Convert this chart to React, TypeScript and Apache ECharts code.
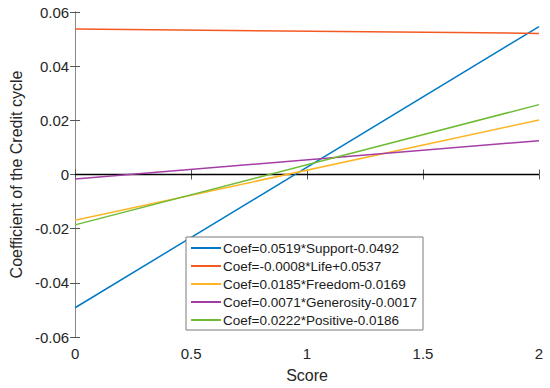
import React, { useEffect, useRef } from "react";
import * as echarts from "echarts";

const names = [
  "Coef=0.0519*Support-0.0492",
  "Coef=-0.0008*Life+0.0537",
  "Coef=0.0185*Freedom-0.0169",
  "Coef=0.0071*Generosity-0.0017",
  "Coef=0.0222*Positive-0.0186",
];
const scoreEnds = [0, 2];
const support = [-0.0492, 0.0546];
const life = [0.0537, 0.0521];
const freedom = [-0.0169, 0.0201];
const generosity = [-0.0017, 0.0125];
const positive = [-0.0186, 0.0258];
const zeroLine = [0, 0];
const colors = ["#0079c4", "#f35a24", "#fdb525", "#a43ea5", "#6fbb33"];

const seriesValues = [support, life, freedom, generosity, positive];

export default function App() {
  const ref = useRef<HTMLDivElement>(null);
  useEffect(() => {
    if (!ref.current) return;
    const chart = echarts.init(ref.current, null, { renderer: "svg" });
    const font = "'Liberation Sans', Arial, sans-serif";
    const axisLine = { show: true, lineStyle: { color: "#8a8a8a", width: 1 } };
    const tick = { show: true, inside: true, length: 5, lineStyle: { color: "#555" } };
    const label = { color: "#262626", fontSize: 15, fontFamily: font };
    chart.setOption({
      animation: false,
      backgroundColor: "#fff",
      grid: { left: 68, top: 12, right: 11, bottom: 50 },
      legend: {
        data: names,
        orient: "vertical",
        left: 186,
        top: 237,
        padding: [4, 6, 3, 5],
        itemGap: 4,
        itemWidth: 30,
        itemHeight: 2,
        icon: "rect",
        backgroundColor: "#fff",
        borderColor: "#7a7a7a",
        borderWidth: 1,
        borderRadius: 0,
        textStyle: { color: "#1a1a1a", fontSize: 13.5, fontFamily: font, padding: [0, 0, 0, -3] },
      },
      xAxis: [
        {
          type: "value",
          min: 0,
          max: 2,
          interval: 0.5,
          position: "bottom",
          name: "Score",
          nameLocation: "middle",
          nameGap: 30,
          nameTextStyle: { color: "#262626", fontSize: 16, fontFamily: font },
          axisLine,
          axisTick: tick,
          axisLabel: { ...label, margin: 9 },
          splitLine: { show: false },
        },
        {
          type: "value",
          min: 0,
          max: 2,
          interval: 0.5,
          position: "top",
          axisLine,
          axisTick: tick,
          axisLabel: { show: false },
          splitLine: { show: false },
        },
      ],
      yAxis: [
        {
          type: "value",
          min: -0.06,
          max: 0.06,
          interval: 0.02,
          position: "left",
          name: "Coefficient of the Credit cycle",
          nameLocation: "middle",
          nameGap: 47,
          nameTextStyle: { color: "#262626", fontSize: 16, fontFamily: font },
          axisLine,
          axisTick: tick,
          axisLabel: {
            ...label,
            margin: 6,
            formatter: (v: number) => (Math.abs(v) < 1e-9 ? "0" : v.toFixed(2)),
          },
          splitLine: { show: false },
        },
        {
          type: "value",
          min: -0.06,
          max: 0.06,
          interval: 0.02,
          position: "right",
          axisLine,
          axisTick: tick,
          axisLabel: { show: false },
          splitLine: { show: false },
        },
      ],
      series: [
        {
          name: "zero",
          type: "line",
          symbol: "none",
          data: scoreEnds.map((x, i) => [x, zeroLine[i]]),
          lineStyle: { color: "#000", width: 1.5 },
          z: 1,
        },
        ...names.map((n, k) => ({
          name: n,
          type: "line",
          symbol: "none",
          data: scoreEnds.map((x, i) => [x, seriesValues[k][i]]),
          lineStyle: { color: colors[k], width: 1.5 },
          itemStyle: { color: colors[k] },
          z: 2,
        })),
      ],
    });
    return () => chart.dispose();
  }, []);
  return <div ref={ref} style={{ width: 550, height: 388, position: "absolute", left: 0, top: 0 }} />;
}
